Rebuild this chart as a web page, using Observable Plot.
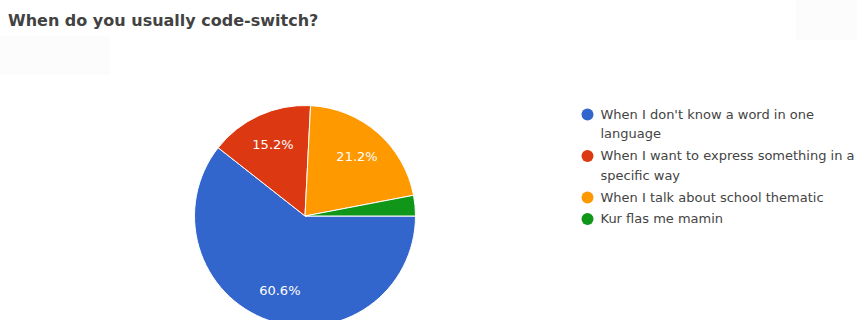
<!DOCTYPE html>
<html>
<head>
<meta charset="utf-8">
<script src="https://cdn.jsdelivr.net/npm/d3@7"></script>
<script src="https://cdn.jsdelivr.net/npm/@observablehq/plot@0.6"></script>
<style>
  html, body { margin: 0; padding: 0; background: #fff; overflow: hidden; }
  #wrap { position: relative; width: 857px; height: 320px; }
  #title { position: absolute; left: 8px; top: 13px; font: bold 16px "DejaVu Sans", sans-serif; color: #424242; line-height: 16px; white-space: nowrap; }
  .ghost { position: absolute; background: #fcfcfc; }
  #chart { position: absolute; left: 0; top: 40px; }
</style>
</head>
<body>
<div id="wrap">
  <div class="ghost" style="left:0;top:36px;width:110px;height:39px"></div>
  <div class="ghost" style="left:796px;top:0;width:61px;height:40px"></div>
  <div id="title">When do you usually code-switch?</div>
  <div id="chart"></div>
</div>
<script>
const title = "When do you usually code-switch?";
const categories = [
  "When I don't know a word in one language",
  "When I want to express something in a specific way",
  "When I talk about school thematic",
  "Kur flas me mamin"
];
const values = [60.6, 15.2, 21.2, 3.0];
const colors = ["#3366cc", "#dc3912", "#ff9900", "#109618"];

const W = 857, H = 280;
const cx = 305, cy = 176, R = 110.5;
const legendFont = 13;
const fontFamily = "'DejaVu Sans', sans-serif";

// pie geometry from data (starts at 3 o'clock, clockwise, as in Google Forms)
const arcs = d3.pie().sort(null).value(d => d.value)
  .startAngle(Math.PI / 2).endAngle(Math.PI / 2 + 2 * Math.PI)(
    categories.map((c, i) => ({category: c, value: values[i]}))
  );

// slice labels placed on the mid-angle
const sliceLabels = arcs.filter(a => a.data.value >= 5).map(a => {
  const m = (a.startAngle + a.endAngle) / 2;
  return {x: cx + Math.sin(m) * R * 0.71, y: cy - Math.cos(m) * R * 0.71, text: a.data.value.toFixed(1) + "%"};
});

// legend with wrapping measured by canvas
const ctx = document.createElement("canvas").getContext("2d");
ctx.font = `${legendFont}px 'DejaVu Sans'`;
function wrap(s, maxW) {
  const words = s.split(" "); const lines = []; let cur = "";
  for (const w of words) {
    const t = cur ? cur + " " + w : w;
    if (cur && ctx.measureText(t).width > maxW) { lines.push(cur); cur = w; } else cur = t;
  }
  if (cur) lines.push(cur);
  return lines;
}
const legendItems = []; const legendLines = [];
let ly = 74;
categories.forEach((c, i) => {
  const lines = wrap(c, 260);
  legendItems.push({category: c, y: ly});
  lines.forEach((l, j) => legendLines.push({text: l, y: ly + j * 19.5}));
  ly += 21.5 + (lines.length - 1) * 20;
});

const pieMark = (index, scales) => {
  const color = scales.color || (c => colors[categories.indexOf(c)]);
  const g = d3.create("svg:g").attr("transform", `translate(${scales.x(cx)},${scales.y(cy)})`);
  const arcGen = d3.arc().innerRadius(0).outerRadius(scales.x(cx + R) - scales.x(cx));
  g.selectAll("path").data(arcs).join("path")
    .attr("d", arcGen)
    .attr("fill", d => color(d.data.category))
    .attr("stroke", "#fff")
    .attr("stroke-width", 1);
  return g.node();
};

const plot = Plot.plot({
  width: W, height: H,
  margin: 0,
  x: {domain: [0, W], range: [0, W], axis: null},
  y: {domain: [0, H], range: [0, H], axis: null},
  color: {domain: categories, range: colors},
  style: {fontFamily: fontFamily, background: "transparent"},
  marks: [
    pieMark,
    Plot.text(sliceLabels, {x: "x", y: "y", text: "text", fill: "#fff", fontSize: 13}),
    Plot.dot(legendItems, {x: () => 587, y: "y", r: 6, fill: "category", stroke: null}),
    Plot.text(legendLines, {x: () => 600, y: "y", text: "text", textAnchor: "start", fill: "#444", fontSize: legendFont})
  ]
});
document.getElementById("chart").appendChild(plot);
</script>
</body>
</html>
